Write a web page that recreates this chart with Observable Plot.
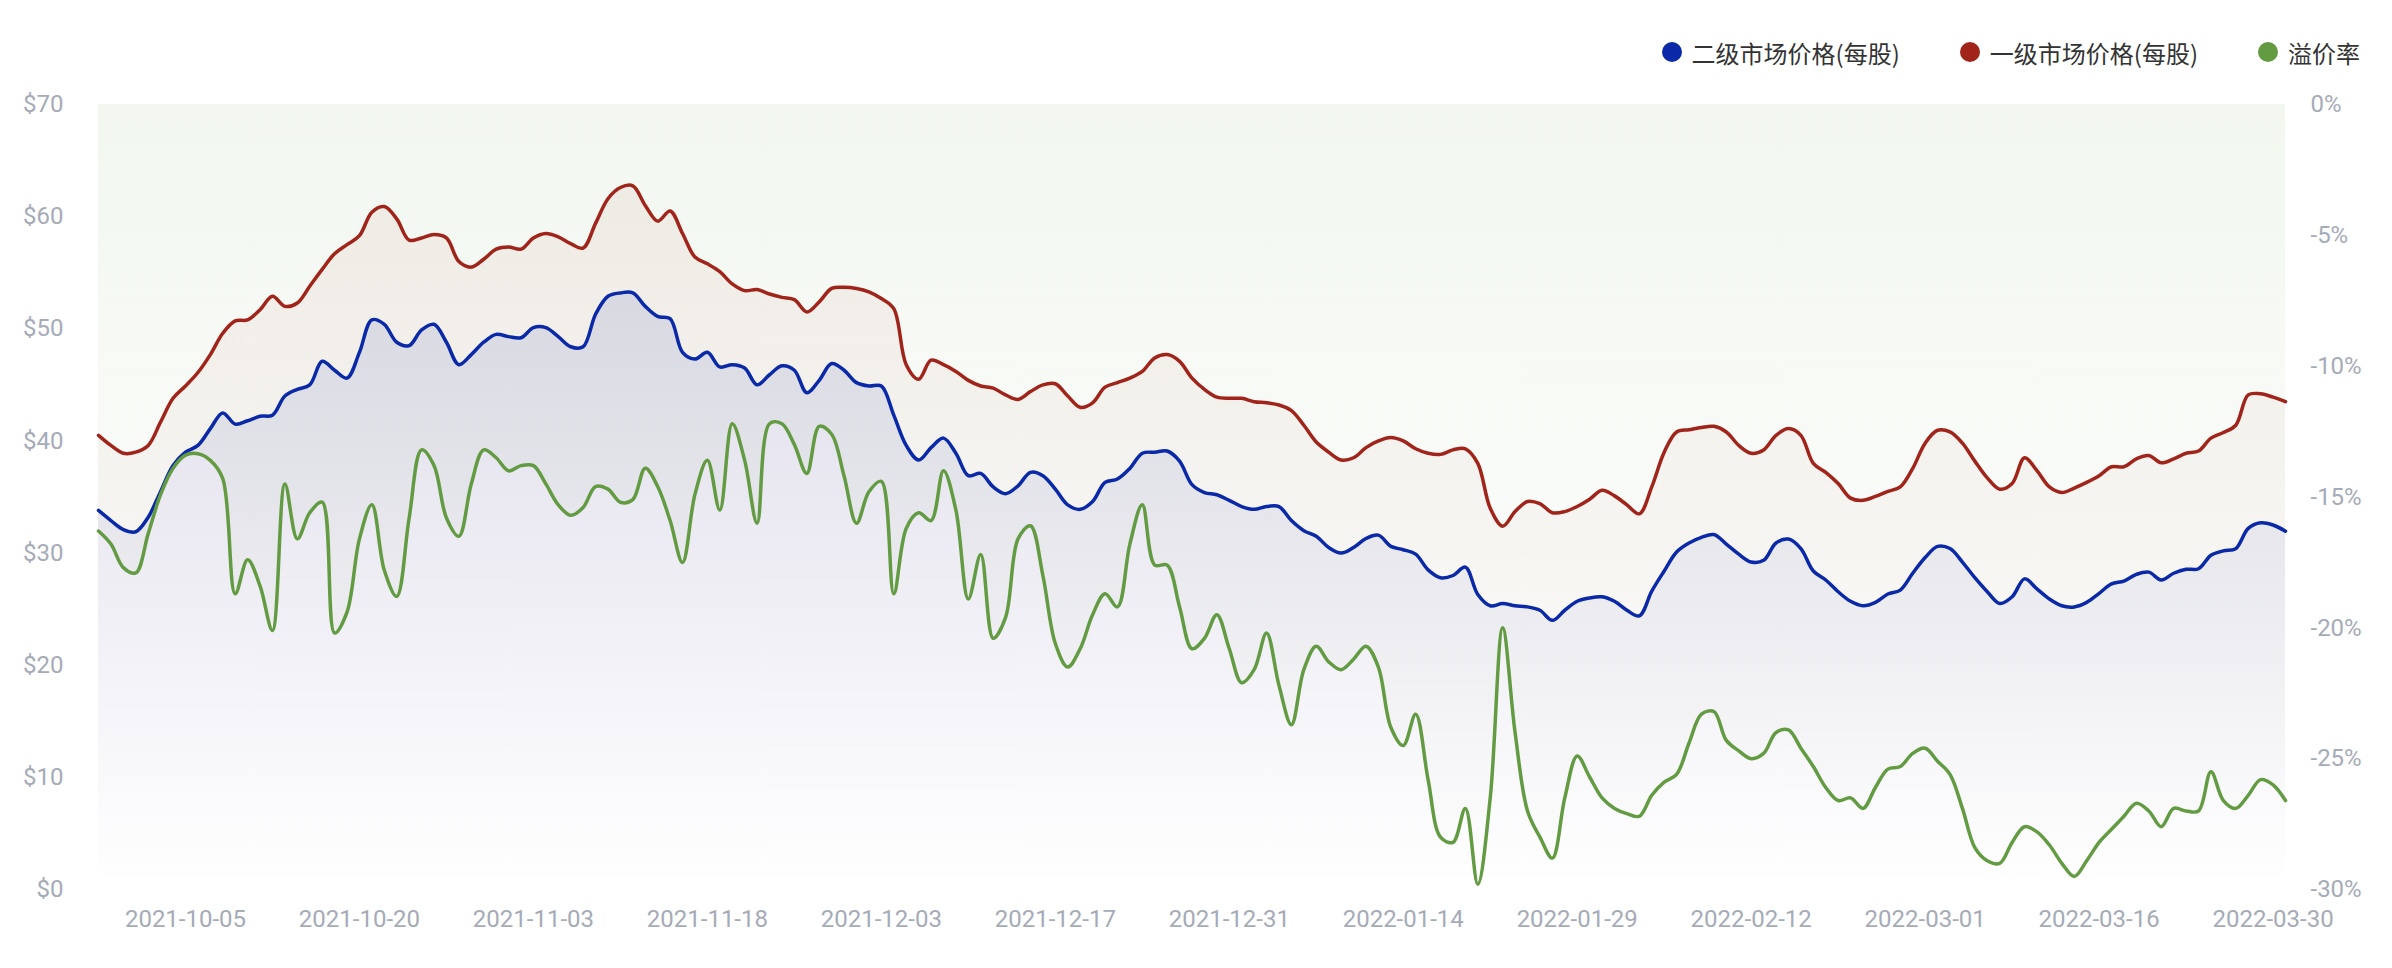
<!DOCTYPE html>
<html><head><meta charset="utf-8">
<script src="https://cdn.jsdelivr.net/npm/d3@7"></script>
<script src="https://cdn.jsdelivr.net/npm/@observablehq/plot@0.6"></script>
<style>
body{margin:0;background:#fff;}
#legend{height:90px;box-sizing:border-box;padding-top:14px;padding-right:32px;display:flex;justify-content:flex-end;align-items:center;font-size:24px;color:#333;font-family:"Noto Sans CJK SC",Roboto,sans-serif;}
.item{display:flex;align-items:center;margin-left:60px;}
.dot{width:20px;height:20px;border-radius:50%;margin-right:10px;}
</style></head><body>
<div id="legend"></div>
<div id="chart"></div>
<script>
const seriesNames = ["二级市场价格(每股)", "一级市场价格(每股)", "溢价率"];
const seriesColors = ["#0a29a8", "#a1241b", "#629b42"];

// 二级市场价格(每股)
const secondary = [33.8,32.9,32.1,31.9,33.2,35.5,37.8,39.0,39.6,41.1,42.5,41.5,41.8,42.2,42.3,44.0,44.6,45.0,47.1,46.3,
45.6,47.9,50.8,50.4,48.8,48.5,49.9,50.4,48.8,46.8,47.7,48.8,49.5,49.3,49.2,50.1,50.1,49.3,48.4,48.4,
51.3,52.9,53.2,53.2,52.0,51.1,50.9,47.9,47.3,47.9,46.6,46.8,46.5,45.0,45.9,46.7,46.3,44.3,45.4,46.9,
46.3,45.2,44.9,44.9,42.3,39.6,38.3,39.4,40.25,38.9,36.9,37.1,35.9,35.3,36.0,37.2,36.9,35.7,34.3,33.9,
34.6,36.3,36.6,37.55,38.9,39.0,39.1,38.2,36.1,35.4,35.2,34.7,34.15,33.9,34.15,34.15,32.9,32.0,31.5,30.5,
30.0,30.5,31.3,31.6,30.6,30.3,29.9,28.5,27.8,28.0,28.75,26.3,25.3,25.5,25.3,25.2,24.9,24.0,24.9,25.7,
26.0,26.1,25.7,24.9,24.4,26.6,28.4,30.1,30.9,31.4,31.65,30.8,29.9,29.2,29.35,30.9,31.25,30.4,28.4,27.6,
26.55,25.7,25.3,25.6,26.35,26.7,28.2,29.6,30.6,30.4,29.2,27.8,26.55,25.5,26.1,27.7,26.8,25.9,25.3,25.2,
25.6,26.4,27.25,27.5,28.1,28.3,27.6,28.2,28.55,28.6,29.8,30.2,30.4,32.2,32.7,32.5,31.95];

// 一级市场价格(每股)
const primary = [40.5,39.6,38.9,39.0,39.6,41.7,43.8,44.9,46.1,47.7,49.6,50.7,50.8,51.7,52.9,52.0,52.3,53.8,55.3,56.7,
57.5,58.3,60.4,60.9,59.8,57.9,58.1,58.4,58.1,56.0,55.5,56.2,57.1,57.3,57.1,58.1,58.5,58.2,57.6,57.2,
59.4,61.6,62.6,62.75,61.0,59.6,60.5,58.5,56.4,55.8,55.1,54.0,53.4,53.5,53.1,52.8,52.6,51.5,52.4,53.6,
53.7,53.6,53.3,52.7,51.8,46.8,45.5,47.2,46.8,46.2,45.4,44.9,44.7,44.1,43.7,44.4,45.0,45.1,44.0,43.0,
43.4,44.8,45.2,45.6,46.2,47.4,47.7,47.1,45.6,44.6,43.9,43.8,43.8,43.5,43.4,43.2,42.7,41.4,39.9,39.0,
38.3,38.5,39.4,40.0,40.3,40.0,39.3,38.9,38.8,39.2,39.3,38.0,34.0,32.4,33.7,34.6,34.4,33.6,33.7,34.15,
34.8,35.6,35.1,34.3,33.5,35.9,39.0,40.8,41.0,41.2,41.3,40.8,39.6,38.9,39.2,40.5,41.1,40.5,38.0,37.2,
36.2,34.9,34.7,35.05,35.5,35.9,37.55,39.8,40.95,40.8,39.8,38.2,36.7,35.7,36.2,38.5,37.35,35.9,35.4,35.8,
36.3,36.9,37.7,37.7,38.4,38.7,38.05,38.4,38.9,39.1,40.25,40.75,41.4,44.1,44.2,43.9,43.5];

// 溢价率 (%)
const premium = [-16.3,-16.8,-17.7,-17.9,-16.4,-14.9,-13.9,-13.4,-13.35,-13.6,-14.3,-18.7,-17.4,-18.4,-20.1,-14.5,-16.6,-15.6,-15.2,-20.2,
-19.4,-16.6,-15.3,-17.8,-18.8,-15.8,-13.2,-13.8,-15.8,-16.5,-14.5,-13.2,-13.5,-14.0,-13.8,-13.8,-14.5,-15.3,-15.7,-15.4,
-14.6,-14.7,-15.2,-15.1,-13.9,-14.6,-15.9,-17.5,-14.9,-13.6,-15.5,-12.2,-13.6,-16.0,-12.2,-12.2,-13.0,-14.1,-12.3,-12.6,
-14.2,-16.0,-14.8,-14.4,-18.7,-16.2,-15.6,-15.9,-14.0,-15.5,-18.9,-17.2,-20.4,-19.6,-16.6,-16.1,-18.0,-20.6,-21.5,-20.8,
-19.5,-18.7,-19.2,-16.8,-15.3,-17.6,-17.6,-19.2,-20.8,-20.4,-19.5,-20.8,-22.1,-21.6,-20.2,-22.2,-23.7,-21.6,-20.7,-21.3,
-21.6,-21.2,-20.7,-21.5,-23.8,-24.5,-23.3,-25.8,-28.0,-28.2,-26.9,-29.8,-26.5,-20.0,-24.0,-27.0,-28.0,-28.8,-26.5,-24.9,
-25.7,-26.5,-26.9,-27.1,-27.2,-26.4,-25.9,-25.6,-24.4,-23.3,-23.2,-24.3,-24.7,-25.0,-24.8,-24.0,-23.9,-24.6,-25.3,-26.1,
-26.6,-26.5,-26.9,-26.1,-25.4,-25.3,-24.8,-24.6,-25.1,-25.6,-26.9,-28.4,-28.9,-29.0,-28.2,-27.6,-27.8,-28.3,-29.0,-29.5,
-28.9,-28.2,-27.7,-27.2,-26.7,-27.0,-27.6,-26.9,-27.0,-27.0,-25.5,-26.6,-26.9,-26.4,-25.8,-26.0,-26.6];

const dateLabels = ["2021-10-05","2021-10-20","2021-11-03","2021-11-18","2021-12-03","2021-12-17","2021-12-31",
  "2022-01-14","2022-01-29","2022-02-12","2022-03-01","2022-03-16","2022-03-30"];
const firstLabelIndex = 7;
const labelEvery = 14;
const priceTicks = [0, 10, 20, 30, 40, 50, 60, 70];
const pctTicks = [0, -5, -10, -15, -20, -25, -30];

const PRICE_MAX = 70, PCT_MIN = -30;
const pctToPrice = p => (p - PCT_MIN) / (0 - PCT_MIN) * PRICE_MAX;
const priceToPct = v => v / PRICE_MAX * (0 - PCT_MIN) + PCT_MIN;

// legend
const legend = document.getElementById("legend");
seriesNames.forEach((name, k) => {
  const item = document.createElement("div");
  item.className = "item";
  const dot = document.createElement("span");
  dot.className = "dot";
  dot.style.background = seriesColors[k];
  const label = document.createElement("span");
  label.textContent = name;
  item.appendChild(dot); item.appendChild(label);
  legend.appendChild(item);
});

const idx = (d, i) => i;
const curve = "catmull-rom";
const [cBlue, cRed, cGreen] = seriesColors;

const chart = Plot.plot({
  width: 2392,
  height: 878,
  marginTop: 14,
  marginBottom: 79,
  marginLeft: 98,
  marginRight: 107,
  x: {domain: [0, secondary.length - 1], axis: null},
  y: {domain: [0, PRICE_MAX], axis: null},
  style: {fontFamily: "Roboto, 'Noto Sans', sans-serif", fontSize: "24px", color: "#a5abb7", background: "transparent", overflow: "visible"},
  marks: [
    Plot.areaY(premium, {x: idx, y1: d => pctToPrice(d), y2: PRICE_MAX, fill: "url(#gradGreen)", curve}),
    Plot.areaY(primary, {x: idx, y: d => d, fill: "url(#gradRed)", curve}),
    Plot.areaY(secondary, {x: idx, y: d => d, fill: "url(#gradBlue)", curve}),
    Plot.lineY(secondary, {x: idx, y: d => d, stroke: cBlue, strokeWidth: 3.5, curve, strokeLinejoin: "round"}),
    Plot.lineY(primary, {x: idx, y: d => d, stroke: cRed, strokeWidth: 3.5, curve, strokeLinejoin: "round"}),
    Plot.lineY(premium, {x: idx, y: d => pctToPrice(d), stroke: cGreen, strokeWidth: 3.5, curve, strokeLinejoin: "round"}),
    Plot.axisY({anchor: "left", ticks: priceTicks, tickFormat: d => "$" + d, tickSize: 0, tickPadding: 35, label: null}),
    Plot.axisY({anchor: "right", ticks: pctTicks.map(pctToPrice), tickFormat: v => Math.round(priceToPct(v)) + "%", tickSize: 0, tickPadding: 25, label: null}),
    Plot.axisX({ticks: dateLabels.map((_, k) => firstLabelIndex + k * labelEvery), tickFormat: i => dateLabels[Math.round((i - firstLabelIndex) / labelEvery)], tickSize: 0, tickPadding: 20, label: null})
  ]
});

const svg = chart.tagName.toLowerCase() === "svg" ? chart : chart.querySelector("svg");
const NS = "http://www.w3.org/2000/svg";
const defs = document.createElementNS(NS, "defs");
function addGrad(id, color, topOpacity, bottomOpacity) {
  const g = document.createElementNS(NS, "linearGradient");
  g.setAttribute("id", id);
  g.setAttribute("x1", "0"); g.setAttribute("y1", "0");
  g.setAttribute("x2", "0"); g.setAttribute("y2", "1");
  [[0, topOpacity], [1, bottomOpacity]].forEach(([o, a]) => {
    const s = document.createElementNS(NS, "stop");
    s.setAttribute("offset", o);
    s.setAttribute("stop-color", color);
    s.setAttribute("stop-opacity", a);
    g.appendChild(s);
  });
  defs.appendChild(g);
}
addGrad("gradGreen", cGreen, 0.08, 0.0);
addGrad("gradRed", cRed, 0.06, 0.0);
addGrad("gradBlue", cBlue, 0.11, 0.0);
svg.insertBefore(defs, svg.firstChild);
document.getElementById("chart").appendChild(chart);
</script>
</body></html>
